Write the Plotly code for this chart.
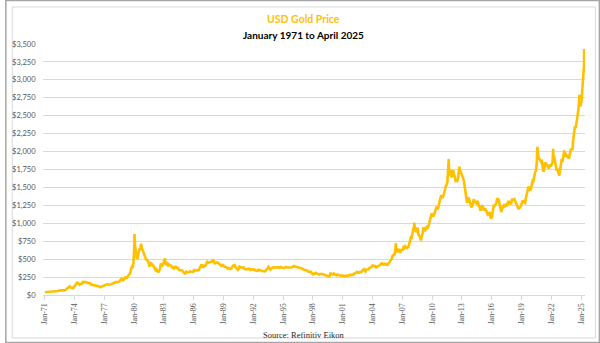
import pandas as pd
import plotly.graph_objects as go

# Monthly USD gold price (approx. monthly levels), Jan 1971 onward
p1970s = [
    38, 39, 39, 39, 40, 40, 41, 43, 42, 42, 43, 43,          # 1971
    46, 48, 48, 49, 55, 62, 66, 67, 65, 65, 63, 64,          # 1972
    65, 74, 84, 90, 102, 120, 120, 107, 103, 100, 95, 107,   # 1973
    129, 150, 168, 172, 163, 154, 143, 155, 152, 159, 182, 184,  # 1974
    176, 180, 178, 170, 167, 164, 165, 163, 145, 143, 143, 139,  # 1975
    131, 131, 133, 128, 127, 126, 118, 109, 114, 116, 130, 134,  # 1976
    132, 136, 148, 149, 147, 141, 143, 145, 149, 158, 162, 161,  # 1977
    173, 178, 184, 175, 176, 184, 189, 206, 212, 227, 206, 208,  # 1978
    227, 246, 242, 239, 258, 279, 295, 301, 355, 392, 392, 455,  # 1979
]
p1980s = [
    675, 665, 554, 517, 514, 601, 644, 627, 674, 661, 624, 595,
    558, 501, 500, 496, 480, 461, 409, 410, 444, 438, 413, 410,
    384, 374, 330, 350, 334, 315, 339, 364, 436, 422, 415, 444,
    481, 492, 420, 433, 438, 413, 423, 416, 412, 394, 382, 388,
    371, 386, 394, 381, 378, 378, 348, 348, 341, 340, 341, 320,
    303, 299, 304, 325, 317, 317, 318, 330, 323, 325, 325, 322,
    346, 339, 346, 340, 343, 343, 349, 377, 419, 424, 395, 391,
    408, 401, 409, 438, 460, 449, 451, 461, 460, 465, 468, 486,
    477, 441, 443, 452, 452, 452, 437, 432, 413, 407, 420, 419,
    404, 388, 390, 384, 371, 368, 375, 365, 362, 367, 394, 409,
]
p1990s = [
    410, 417, 393, 374, 369, 352, 363, 395, 389, 381, 382, 378,
    384, 364, 363, 358, 357, 367, 368, 356, 349, 359, 360, 362,
    355, 354, 344, 339, 337, 341, 353, 343, 345, 344, 335, 335,
    329, 329, 330, 342, 367, 372, 392, 380, 355, 364, 374, 383,
    387, 382, 384, 377, 381, 386, 386, 380, 392, 390, 384, 379,
    379, 377, 382, 391, 386, 388, 386, 384, 383, 383, 386, 387,
    400, 405, 396, 393, 392, 385, 384, 388, 383, 381, 378, 369,
    354, 347, 352, 345, 344, 341, 324, 324, 323, 325, 306, 289,
    289, 298, 296, 308, 299, 292, 293, 284, 289, 296, 294, 292,
    287, 287, 286, 282, 276, 261, 256, 257, 265, 311, 293, 283,
]
p2000s = [
    285, 300, 286, 280, 275, 286, 282, 275, 274, 270, 266, 272,
    266, 262, 263, 261, 272, 270, 268, 272, 283, 283, 276, 276,
    282, 296, 294, 303, 315, 321, 313, 310, 319, 317, 319, 333,
    357, 359, 341, 328, 356, 356, 351, 360, 379, 379, 390, 408,
    414, 405, 407, 403, 384, 392, 398, 401, 405, 421, 439, 442,
    424, 423, 434, 429, 422, 431, 425, 438, 456, 470, 477, 510,
    550, 555, 557, 611, 677, 596, 634, 633, 598, 586, 628, 630,
    631, 665, 655, 679, 667, 656, 665, 665, 713, 755, 806, 803,
    890, 922, 968, 910, 889, 890, 940, 839, 830, 807, 761, 816,
    859, 943, 924, 890, 929, 946, 934, 949, 997, 1043, 1127, 1135,
]
p2010s = [
    1118, 1095, 1113, 1149, 1205, 1233, 1193, 1216, 1271, 1342, 1370, 1391,
    1356, 1373, 1424, 1474, 1510, 1529, 1573, 1756, 1772, 1665, 1739, 1652,
    1656, 1743, 1674, 1650, 1591, 1599, 1590, 1630, 1745, 1747, 1722, 1685,
    1672, 1628, 1593, 1488, 1414, 1343, 1286, 1352, 1349, 1317, 1276, 1222,
    1244, 1300, 1336, 1299, 1288, 1279, 1311, 1295, 1237, 1223, 1175, 1201,
    1252, 1227, 1179, 1199, 1199, 1182, 1128, 1118, 1125, 1159, 1086, 1068,
    1098, 1200, 1245, 1242, 1261, 1276, 1337, 1340, 1327, 1267, 1238, 1157,
    1192, 1234, 1231, 1267, 1246, 1260, 1237, 1283, 1314, 1280, 1282, 1265,
    1331, 1331, 1325, 1335, 1304, 1282, 1238, 1202, 1198, 1215, 1221, 1250,
    1292, 1320, 1301, 1286, 1284, 1359, 1413, 1500, 1511, 1495, 1470, 1479,
]
p2020s = [
    1561, 1597, 1592, 1683, 1716, 1732, 1847, 1969, 1922, 1900, 1866, 1858,
    1867, 1808, 1718, 1760, 1850, 1835, 1808, 1785, 1775, 1777, 1821, 1790,
    1816, 1856, 1948, 1937, 1849, 1837, 1733, 1765, 1681, 1665, 1725, 1798,
    1898, 1855, 1913, 2000, 1993, 1943, 1950, 1919, 1916, 1916, 1993, 2027,
    2033, 2024, 2158, 2333, 2350, 2326, 2398, 2470, 2571, 2690, 2651, 2648,
    2709, 2895, 2984, 3200,
]

# Daily extremes visible on the chart
spike_dates = ["1980-01-21", "1980-09-22", "1983-02-15", "1987-12-14",
               "2006-05-12", "2008-03-17", "2011-09-05", "2012-10-04",
               "2020-08-06", "2022-03-08", "2024-10-30", "2025-04-21"]
spike_values = [850, 715, 510, 500, 725, 1010, 1895, 1790,
                2067, 2040, 2790, 3430]

values = p1970s + p1980s + p1990s + p2000s + p2010s + p2020s
dates = pd.date_range("1971-01-01", periods=len(values), freq="MS") + pd.Timedelta(days=14)

df = pd.concat([
    pd.DataFrame({"date": dates, "price": values}),
    pd.DataFrame({"date": pd.to_datetime(spike_dates), "price": spike_values}),
]).sort_values("date")

GOLD = "#FFC000"
GRID = "#D9D9D9"
LABEL = "#595959"

fig = go.Figure()
fig.add_trace(go.Scatter(x=df["date"], y=df["price"], mode="lines",
                         line=dict(color=GOLD, width=2.6), hoverinfo="x+y",
                         showlegend=False))

W, H = 600, 343
ml, mr, mt, mb = 38, 15, 44, 48
pw, ph = W - ml - mr, H - mt - mb

def px(x):
    return (x - ml) / pw

def py(y):
    return (H - mb - y) / ph

fig.update_layout(
    width=W, height=H,
    margin=dict(l=ml, r=mr, t=mt, b=mb, pad=0),
    paper_bgcolor="white", plot_bgcolor="white",
    font=dict(family="Lato, Carlito, sans-serif", color=LABEL, size=8),
    xaxis=dict(
        type="date", range=["1970-11-07", "2025-05-22"],
        tick0="1971-01-01", dtick="M36", tickformat="%b-%y",
        tickangle=-90, showgrid=False, showline=True, linecolor=GRID,
        linewidth=1, ticks="outside", ticklen=4, tickcolor=GRID,
        tickfont=dict(family="Liberation Serif, DejaVu Serif, serif", size=8, color=LABEL),
        zeroline=False, fixedrange=True,
    ),
    yaxis=dict(
        range=[0, 3500], dtick=250, tick0=0, tickformat="$,.0f",
        showgrid=True, gridcolor=GRID, gridwidth=1, zeroline=False,
        showline=False, ticks="outside", ticklen=5, tickcolor="rgba(0,0,0,0)",
        tickfont=dict(family="Lato, Carlito, sans-serif", size=7.5, color=LABEL),
        fixedrange=True,
    ),
    annotations=[
        dict(text="<b>USD Gold Price</b>", x=px(301), xref="paper", xanchor="center",
             y=py(19), yref="paper", yanchor="middle", showarrow=False,
             font=dict(family="Lato, sans-serif", size=10.5, color=GOLD)),
        dict(text="<b>January 1971 to April 2025</b>", x=px(301), xref="paper",
             xanchor="center", y=py(35), yref="paper", yanchor="middle",
             showarrow=False,
             font=dict(family="Lato, sans-serif", size=10, color="#000000")),
        dict(text="Source: Refinitiv Eikon", x=px(301), xref="paper",
             xanchor="center", y=py(335), yref="paper", yanchor="middle",
             showarrow=False,
             font=dict(family="Liberation Serif, DejaVu Serif, serif", size=8.5,
                       color="#262626")),
    ],
    shapes=[
        dict(type="rect", xref="paper", yref="paper",
             x0=px(7), x1=px(595.5), y0=py(7), y1=py(338),
             line=dict(color="#D9D9D9", width=1), fillcolor="rgba(0,0,0,0)",
             layer="below"),
        dict(type="rect", xref="paper", yref="paper",
             x0=px(0.5), x1=px(599.5), y0=py(0.5), y1=py(342.5),
             line=dict(color="#A6A6A6", width=1.5), fillcolor="rgba(0,0,0,0)",
             layer="below"),
    ],
)

fig.write_html("out.html")
